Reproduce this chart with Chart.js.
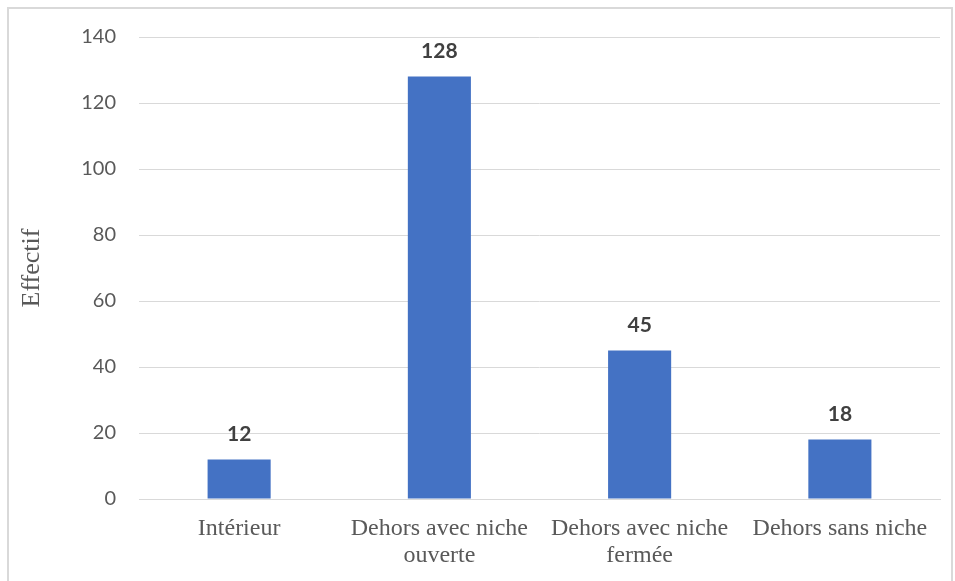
<!DOCTYPE html>
<html>
<head>
<meta charset="utf-8">
<script src="https://cdn.jsdelivr.net/npm/chart.js@4"></script>
<style>
  html, body { margin: 0; padding: 0; background: #fff; }
  #wrap { width: 955px; height: 581px; }
</style>
</head>
<body>
<div id="wrap"><canvas id="effectifChart" width="955" height="581"></canvas></div>
<script>
var categories = ['Intérieur', ['Dehors avec niche', 'ouverte'], ['Dehors avec niche', 'fermée'], 'Dehors sans niche'];
var effectifs = [12, 128, 45, 18];
var yTicks = [0, 20, 40, 60, 80, 100, 120, 140];

// bold value above each bar
var valueLabels = {
  id: 'valueLabels',
  afterDatasetsDraw: function(chart) {
    var ctx = chart.ctx;
    var meta = chart.getDatasetMeta(0);
    ctx.save();
    ctx.font = 'bold 21px Lato, "Liberation Sans", sans-serif';
    ctx.fillStyle = '#404040';
    ctx.textAlign = 'center';
    ctx.textBaseline = 'middle';
    meta.data.forEach(function(bar, i) {
      ctx.fillText(String(effectifs[i]), bar.x, bar.y - 25);
    });
    ctx.restore();
  }
};

// light frame around the whole chart
var frame = {
  id: 'frame',
  beforeDraw: function(chart) {
    var ctx = chart.ctx;
    ctx.save();
    ctx.strokeStyle = '#d9d9d9';
    ctx.lineWidth = 2;
    ctx.strokeRect(8, 8, 944, 600);
    ctx.restore();
  }
};

var ctx = document.getElementById('effectifChart').getContext('2d');
var chart = new Chart(ctx, {
  type: 'bar',
  data: {
    labels: categories,
    datasets: [{
      label: 'Effectif',
      data: effectifs,
      backgroundColor: '#4472C4',
      borderWidth: 0,
      categoryPercentage: 1,
      barPercentage: 0.315
    }]
  },
  options: {
    responsive: false,
    animation: false,
    layout: { padding: { top: 37, right: 15, left: 0, bottom: 0 } },
    plugins: {
      legend: { display: false },
      tooltip: { enabled: false }
    },
    scales: {
      x: {
        grid: { display: false, drawTicks: false },
        border: { display: true, color: '#d9d9d9', width: 1 },
        ticks: {
          color: '#595959',
          padding: 16,
          maxRotation: 0,
          autoSkip: false,
          font: { family: '"Liberation Serif", "Times New Roman", serif', size: 24, lineHeight: '27px' }
        },
        afterFit: function(scale) { scale.height = 82; }
      },
      y: {
        min: 0,
        max: 140,
        afterBuildTicks: function(scale) {
          scale.ticks = yTicks.map(function(v) { return { value: v }; });
        },
        grid: { color: '#d9d9d9', lineWidth: 1, drawTicks: false },
        border: { display: false },
        ticks: {
          color: '#595959',
          padding: 23,
          font: { family: 'Lato, "Liberation Sans", sans-serif', size: 20 }
        },
        title: {
          display: true,
          text: 'Effectif',
          color: '#595959',
          padding: { top: 17, bottom: 0 },
          font: { family: '"Liberation Serif", "Times New Roman", serif', size: 26 }
        },
        afterFit: function(scale) { scale.width = 139; }
      }
    }
  },
  plugins: [frame, valueLabels]
});
</script>
</body>
</html>
